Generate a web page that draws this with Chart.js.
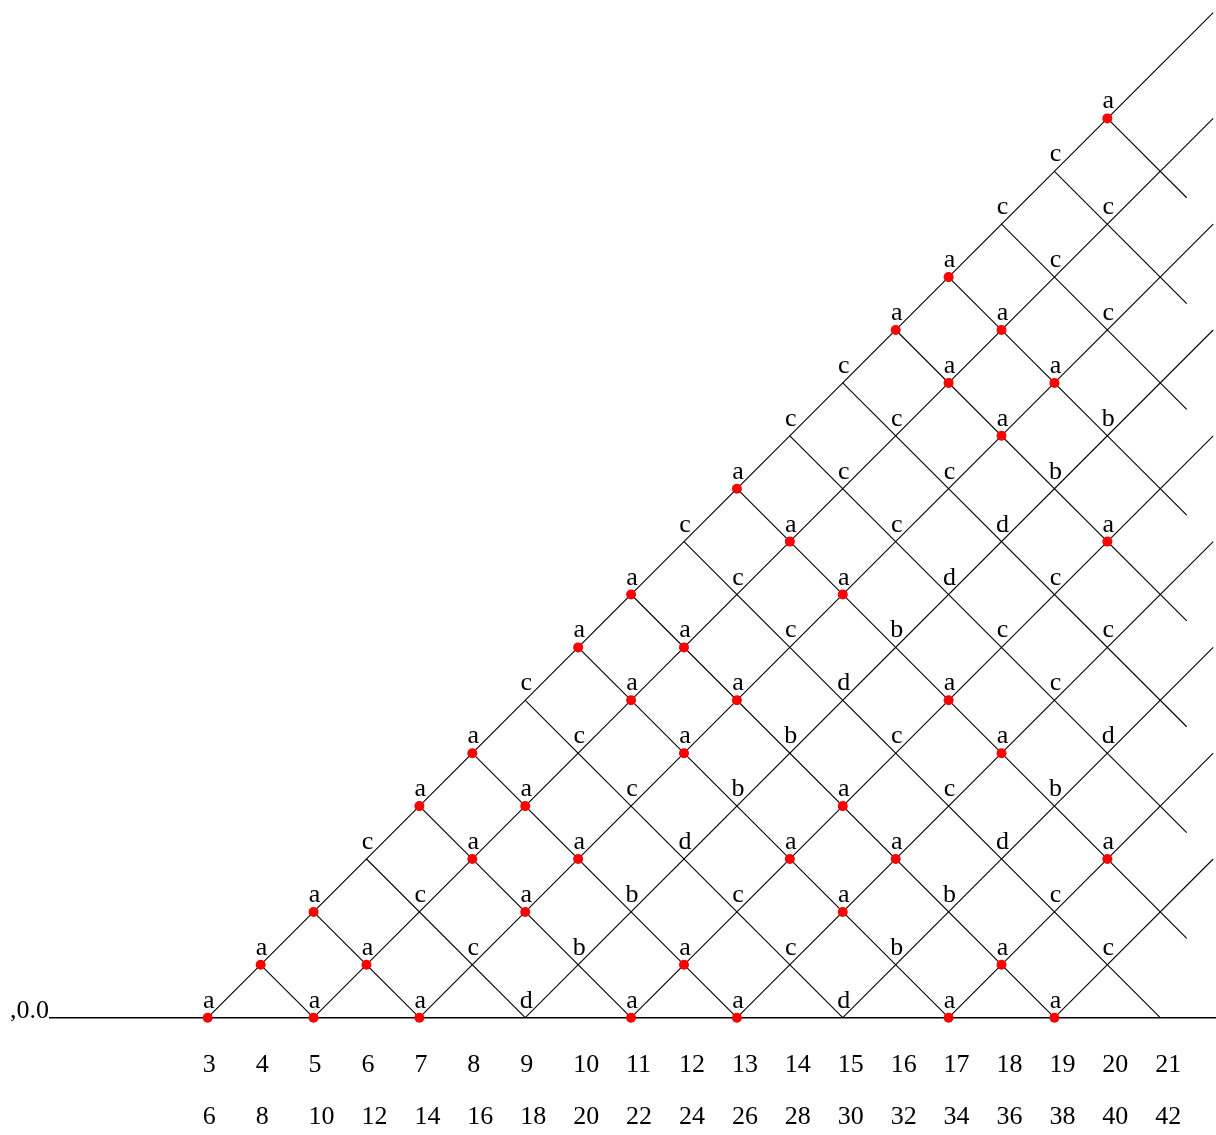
<!DOCTYPE html>
<html><head><meta charset="utf-8">
<script src="https://cdn.jsdelivr.net/npm/chart.js@4"></script>
<style>html,body{margin:0;padding:0;background:#fff}#wrap{width:1216px;height:1135px;position:relative}</style>
</head><body><div id="wrap"><canvas id="c" width="1216" height="1135"></canvas></div>
<script>
// ---- data ----
const halfSums = [3,4,5,6,7,8,9,10,11,12,13,14,15,16,17,18,19,20,21];
const evenNumbers = [6,8,10,12,14,16,18,20,22,24,26,28,30,32,34,36,38,40,42];
// Labels per height h (row), starting at n = h+3, step 2
const pairLabels = [
  "aaadaadaa", // h=0
  "aacbacbac", // h=1
  "acabcabc",  // h=2
  "caadaada",  // h=3
  "aacbacb",   // h=4
  "acabcad",   // h=5
  "caadac",    // h=6
  "aacbcc",    // h=7
  "acadc",     // h=8
  "cacda",     // h=9
  "accb",      // h=10
  "ccab",      // h=11
  "caa",       // h=12
  "aac",       // h=13
  "ac",        // h=14
  "cc",        // h=15
  "c",         // h=16
  "a"          // h=17
];
const upRightStarts = [3,5,7,9,11,13,15,17,19];           // start on axis (n,0)
const downRightStarts = [4,5,6,7,8,9,10,11,12,13,14,15,16,17,18,19,20]; // start on diagonal (n,n-3)
const upRightEnd = 22;
const downRightEnd = 21.5;
const axisStart = 0;
const axisLabel = ",0.0";

// ---- scales ----
const XMIN = -0.925, XMAX = 22.053;
const YMIN = -2.217, YMAX = 19.238;

const datasets = [];
// points
const pts = [];
pairLabels.forEach((row, h) => {
  for (let i = 0; i < row.length; i++) {
    pts.push({x: h + 3 + 2*i, y: h, lab: row[i]});
  }
});
datasets.push({
  data: pts, order: 0,
  pointRadius: c => (c.raw && c.raw.lab === 'a') ? 5 : 0,
  pointHoverRadius: 0,
  backgroundColor: '#ff0000', borderWidth: 0, showLine: false
});
function seg(a, b, w) {
  datasets.push({data: [a, b], order: 1, showLine: true, pointRadius: 0, borderColor: '#000', borderWidth: w || 1.1, fill: false});
}
upRightStarts.forEach(s => seg({x:s,y:0},{x:upRightEnd,y:upRightEnd-s}));
downRightStarts.forEach(k => {
  const h0 = k - 3;
  const endN = Math.min(k + h0, downRightEnd);
  seg({x:k,y:h0},{x:endN,y:h0-(endN-k)});
});
seg({x:axisStart,y:0},{x:XMAX+1,y:0},1.4);

const FONT = '26px "Liberation Serif", "Times New Roman", serif';
const textPlugin = {
  id: 'texts',
  afterDatasetsDraw(chart) {
    const ctx = chart.ctx;
    const xs = chart.scales.x, ys = chart.scales.y;
    ctx.save();
    ctx.fillStyle = '#000';
    ctx.font = FONT;
    ctx.textBaseline = 'alphabetic';
    // point labels
    const meta = chart.getDatasetMeta(0);
    ctx.textAlign = 'center';
    meta.data.forEach((el, i) => {
      ctx.fillText(pts[i].lab, el.x + 1, el.y - 10);
    });
    // tick labels
    const y0 = ys.getPixelForValue(0);
    ctx.textAlign = 'left';
    halfSums.forEach((n, i) => {
      const px = xs.getPixelForValue(n) - 5;
      ctx.fillText(String(n), px, y0 + 54);
      ctx.fillText(String(evenNumbers[i]), px, y0 + 106);
    });
    // axis label
    ctx.textAlign = 'right';
    ctx.fillText(axisLabel, xs.getPixelForValue(axisStart), y0);
    ctx.restore();
  }
};

new Chart(document.getElementById('c').getContext('2d'), {
  type: 'scatter',
  data: {datasets},
  options: {
    responsive: false, animation: false, devicePixelRatio: 1,
    layout: {padding: 0, autoPadding: false},
    events: [],
    plugins: {legend: {display: false}, tooltip: {enabled: false}},
    scales: {
      x: {type: 'linear', min: XMIN, max: XMAX, display: false},
      y: {type: 'linear', min: YMIN, max: YMAX, display: false}
    }
  },
  plugins: [textPlugin]
});
</script></body></html>
